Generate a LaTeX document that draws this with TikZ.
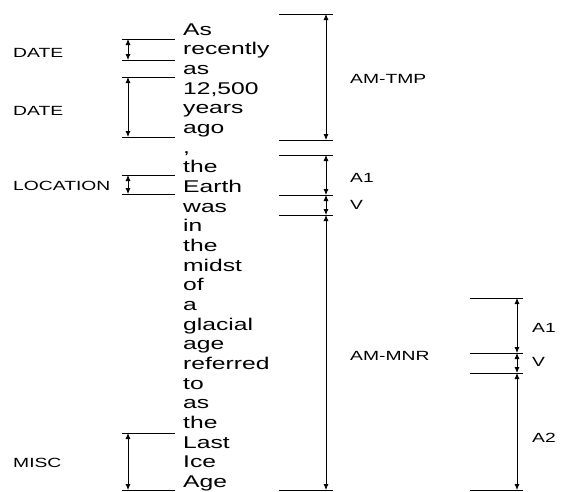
\documentclass[tikz,border=0pt]{standalone}
\usepackage{fontspec}
\setmainfont[FakeStretch=1.45]{Liberation Sans}
\usetikzlibrary{arrows.meta}

% one labelled span: name, line from x, arrow x, line to x, top y, bottom y
\newcommand{\argspan}[6]{%
  \coordinate (#1-t) at (#3,#5);
  \coordinate (#1-b) at (#3,#6);
  \draw[tick] (#2,#5) -- (#4,#5) (#2,#6) -- (#4,#6);
  \draw[tick,<->] (#1-t) -- (#1-b);
}

\begin{document}
\begin{tikzpicture}[x=1pt, y=-1pt, >={Latex[length=6pt,width=5pt]},
  word/.style={anchor=base west, inner sep=0pt, font=\fontsize{17}{17}\selectfont},
  role/.style={anchor=base west, inner sep=0pt, font=\fontsize{13.3}{13.3}\selectfont},
  tick/.style={line width=0.8pt}]
\useasboundingbox (0,0) rectangle (564,491);

% the sentence, one word per line
\foreach \w [count=\i from 0] in {As,recently,as,{12,500},years,ago,{,},the,Earth,was,in,the,midst,of,a,glacial,age,referred,to,as,the,Last,Ice,Age}
  \node[word] (w\i) at (183,35+19.67*\i) {\w};

% left spans
\argspan{date1}{122}{128}{175}{39}{60}
\argspan{date2}{122}{128}{175}{77}{137}
\argspan{loc}{122}{128}{175}{175}{194}
\argspan{misc}{122}{128}{175}{433}{490}
\node[role] (date1) at (13,57) {DATE};
\node[role] (date2) at (13,115) {DATE};
\node[role] (loc) at (13,190) {LOCATION};
\node[role] (misc) at (13,467) {MISC};

% first predicate
\argspan{tmp}{279}{326}{333}{14}{140}
\argspan{a1}{279}{326}{333}{155}{195}
\argspan{v}{279}{326}{333}{195}{215}
\argspan{mnr}{279}{326}{333}{215}{490}
\node[role] (tmp) at (350,83) {AM-TMP};
\node[role] (a1) at (350,182) {A1};
\node[role] (v) at (350,209) {V};
\node[role] (mnr) at (350,360) {AM-MNR};

% second predicate
\argspan{b1}{470}{517}{523}{298}{353}
\argspan{bv}{470}{517}{523}{353}{373}
\argspan{b2}{470}{517}{523}{373}{490}
\node[role] (b1) at (532,332) {A1};
\node[role] (bv) at (532,366) {V};
\node[role] (b2) at (532,442) {A2};
\end{tikzpicture}
\end{document}
